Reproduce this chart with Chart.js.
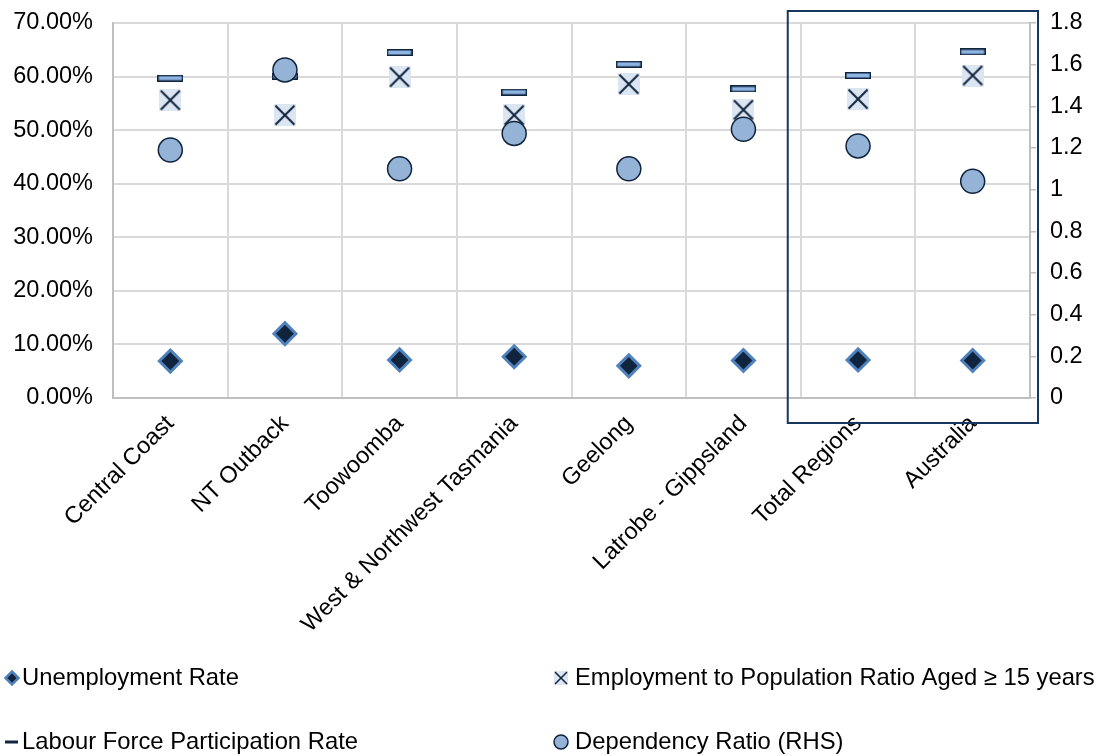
<!DOCTYPE html>
<html>
<head>
<meta charset="utf-8">
<script src="https://cdn.jsdelivr.net/npm/chart.js@4/dist/chart.umd.min.js"></script>
<style>
  html, body { margin: 0; padding: 0; background: #ffffff; }
  #wrap { position: relative; width: 1099px; height: 756px; }
</style>
</head>
<body>
<div id="wrap"><canvas id="chart" width="1099" height="756"></canvas></div>
<script>
// Regions compared
const categories = ['Central Coast', 'NT Outback', 'Toowoomba', 'West & Northwest Tasmania',
  'Geelong', 'Latrobe - Gippsland', 'Total Regions', 'Australia'];

// Percent series (left axis)
const unemploymentRate = [6.9, 12.0, 7.1, 7.7, 6.0, 7.0, 7.1, 7.0];
const employmentRatio = [55.6, 52.8, 59.9, 52.8, 58.6, 53.8, 55.8, 60.2];
const participationRate = [59.7, 60.1, 64.5, 57.1, 62.3, 57.7, 60.2, 64.6];

// Ratio series (right axis)
const dependencyRatio = [1.19, 1.575, 1.10, 1.27, 1.10, 1.29, 1.21, 1.04];

// Axis tick ranges
const leftTicks = { min: 0, max: 70, step: 10 };
const rightTicks = { min: 0, max: 1.8, step: 0.2 };

const seriesNames = ['Unemployment Rate', 'Employment to Population Ratio Aged \u2265 15 years',
  'Labour Force Participation Rate', 'Dependency Ratio (RHS)'];

const NAVY = '#10243e';
const MID_BLUE = '#4f81bd';
const LIGHT_BLUE = '#95b3d7';
const PALE_BLUE = '#dce6f2';
const FONT = "'Liberation Sans', Arial, sans-serif";
const TICK_SIZE = 23.5;
const LEGEND_SIZE = 23.8;

// Marker images
function dashMarker(w, h) {
  const c = document.createElement('canvas');
  c.width = w; c.height = h;
  const g = c.getContext('2d');
  g.fillStyle = '#8db4e2';
  g.fillRect(0, 0, w, h);
  g.strokeStyle = NAVY;
  g.lineWidth = 1.5;
  g.strokeRect(0.75, 0.75, w - 1.5, h - 1.5);
  return c;
}
function crossMarker(s, lw) {
  const c = document.createElement('canvas');
  c.width = s; c.height = s;
  const g = c.getContext('2d');
  g.fillStyle = PALE_BLUE;
  g.fillRect(0, 0, s, s);
  g.strokeStyle = NAVY;
  g.lineWidth = lw;
  const m = 1.5;
  g.beginPath();
  g.moveTo(m, m); g.lineTo(s - m, s - m);
  g.moveTo(s - m, m); g.lineTo(m, s - m);
  g.stroke();
  return c;
}
const dashImg = dashMarker(26, 7);
const crossImg = crossMarker(22, 2);

// Rectangle around the two summary categories, plus the legend
const extrasPlugin = {
  id: 'extras',
  afterDraw(chart) {
    const ctx = chart.ctx;
    const area = chart.chartArea;
    const x = chart.scales.x;
    const half = (x.getPixelForValue(1) - x.getPixelForValue(0)) / 2;
    const left = x.getPixelForValue(6) - half - 13;
    ctx.save();
    ctx.strokeStyle = '#17375e';
    ctx.lineWidth = 2;
    ctx.strokeRect(left, area.top - 12, area.right + 8 - left, area.bottom + 25 - (area.top - 12));

    // legend
    ctx.font = LEGEND_SIZE + 'px ' + FONT;
    ctx.fillStyle = '#000';
    ctx.textBaseline = 'middle';
    ctx.textAlign = 'left';
    const rows = [678, 742];
    const cols = [12, 561];
    const textX = [22, 575];

    // diamond
    ctx.beginPath();
    const dx = cols[0], dy = rows[0], r = 6.5;
    ctx.moveTo(dx, dy - r); ctx.lineTo(dx + r, dy); ctx.lineTo(dx, dy + r); ctx.lineTo(dx - r, dy); ctx.closePath();
    ctx.fillStyle = NAVY; ctx.fill();
    ctx.strokeStyle = MID_BLUE; ctx.lineWidth = 2.5; ctx.stroke();
    ctx.fillStyle = '#000';
    ctx.fillText(seriesNames[0], textX[0], rows[0]);

    // cross
    ctx.fillStyle = PALE_BLUE;
    ctx.fillRect(cols[1] - 7, rows[0] - 7, 14, 14);
    ctx.strokeStyle = NAVY; ctx.lineWidth = 1.5;
    ctx.beginPath();
    ctx.moveTo(cols[1] - 6, rows[0] - 6); ctx.lineTo(cols[1] + 6, rows[0] + 6);
    ctx.moveTo(cols[1] + 6, rows[0] - 6); ctx.lineTo(cols[1] - 6, rows[0] + 6);
    ctx.stroke();
    ctx.fillStyle = '#000';
    ctx.fillText(seriesNames[1], textX[1], rows[0]);

    // dash
    ctx.fillStyle = NAVY;
    ctx.fillRect(cols[0] - 7, rows[1] - 1.5, 13, 3);
    ctx.fillStyle = '#000';
    ctx.fillText(seriesNames[2], textX[0], rows[1]);

    // circle
    ctx.beginPath();
    ctx.arc(cols[1], rows[1], 7, 0, Math.PI * 2);
    ctx.fillStyle = LIGHT_BLUE; ctx.fill();
    ctx.strokeStyle = NAVY; ctx.lineWidth = 1.5; ctx.stroke();
    ctx.fillStyle = '#000';
    ctx.fillText(seriesNames[3], textX[1], rows[1]);
    ctx.restore();
  }
};

// keep the value axes from adding label overflow above the plot
function fixVertical(width) {
  return s => { s.width = width; s.paddingTop = 0; s.paddingBottom = 0; };
}

new Chart(document.getElementById('chart'), {
  type: 'line',
  data: {
    labels: categories,
    datasets: [
      {
        label: seriesNames[0], data: unemploymentRate, yAxisID: 'y', showLine: false,
        pointStyle: 'rectRot', pointRadius: 11, pointBorderWidth: 3,
        pointBackgroundColor: NAVY, pointBorderColor: MID_BLUE, order: 4
      },
      {
        label: seriesNames[1], data: employmentRatio, yAxisID: 'y', showLine: false,
        pointStyle: crossImg, order: 3
      },
      {
        label: seriesNames[2], data: participationRate, yAxisID: 'y', showLine: false,
        pointStyle: dashImg, order: 2
      },
      {
        label: seriesNames[3], data: dependencyRatio, yAxisID: 'y1', showLine: false,
        pointStyle: 'circle', pointRadius: 12, pointBorderWidth: 1.5,
        pointBackgroundColor: LIGHT_BLUE, pointBorderColor: NAVY, order: 1
      }
    ]
  },
  options: {
    responsive: false,
    animation: false,
    events: [],
    layout: { padding: { top: 23, left: 0, right: 0, bottom: 0 } },
    plugins: { legend: { display: false }, tooltip: { enabled: false } },
    scales: {
      x: {
        offset: true,
        grid: { offset: true, color: '#d9d9d9', lineWidth: 2, drawTicks: false },
        border: { color: '#bfbfbf', width: 2 },
        ticks: {
          maxRotation: 45, minRotation: 45, padding: 12, autoSkip: false,
          color: '#000', font: { family: FONT, size: TICK_SIZE }
        },
        afterFit(s) { s.height = 358; }
      },
      y: {
        position: 'left',
        min: leftTicks.min, max: leftTicks.max,
        grid: { color: '#d9d9d9', lineWidth: 2, drawTicks: false },
        border: { color: '#bfbfbf', width: 2 },
        ticks: {
          stepSize: leftTicks.step, padding: 20, color: '#000',
          font: { family: FONT, size: TICK_SIZE },
          callback: v => v.toFixed(2) + '%'
        },
        afterFit: fixVertical(113)
      },
      y1: {
        position: 'right',
        min: rightTicks.min, max: rightTicks.max,
        grid: { drawOnChartArea: false, color: '#bfbfbf', tickLength: 6, lineWidth: 1.5 },
        border: { color: '#bfbfbf', width: 2 },
        ticks: {
          stepSize: rightTicks.step, padding: 14, color: '#000',
          font: { family: FONT, size: TICK_SIZE },
          callback: v => String(Number(v.toFixed(1)))
        },
        afterFit: fixVertical(69)
      }
    }
  },
  plugins: [extrasPlugin]
});
</script>
</body>
</html>
